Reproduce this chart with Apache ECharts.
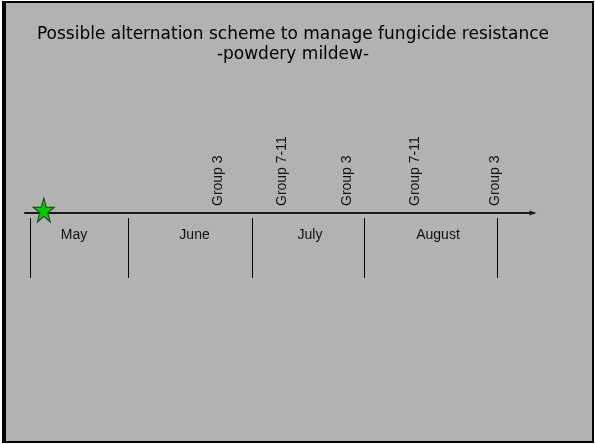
<!DOCTYPE html>
<html>
<head>
<meta charset="utf-8">
<script src="https://cdn.jsdelivr.net/npm/echarts@6/dist/echarts.min.js"></script>
<style>
  html, body { margin: 0; padding: 0; background: #ffffff; }
  #frame { position: absolute; left: 2px; top: 1px; width: 592px; height: 442px; box-sizing: border-box;
           background: #b2b2b2; border-style: solid; border-color: #000; border-width: 2px 2px 2px 4px; }
  #chart { position: absolute; left: 0; top: 0; width: 595px; height: 444px; }
</style>
</head>
<body>
<div id="frame"></div>
<div id="chart"></div>
<script>
// Timeline positions are expressed as % of the timeline length (0 = start, 100 = end)
const titleLines = ['Possible alternation scheme to manage fungicide resistance', '-powdery mildew-'];
const months = ['May', 'June', 'July', 'August'];
const monthCenters = [9.65, 33.37, 56.1, 81.3];
const monthBoundaries = [0.89, 20.37, 44.59, 66.83, 93.01];
const sprayLabels = ['Group 3', 'Group 7-11', 'Group 3', 'Group 7-11', 'Group 3'];
const sprayPositions = [38.05, 50.65, 63.33, 76.77, 92.52];
const startPositions = [3.7];

const STAR = 'path://M50,0 L61.23,34.55 L97.55,34.55 L68.17,55.9 L79.39,90.45 L50,69.1 L20.61,90.45 L31.83,55.9 L2.45,34.55 L38.77,34.55 Z';
const LABEL_FONT = '14px "Liberation Sans", Arial, sans-serif';

const chart = echarts.init(document.getElementById('chart'), null, { renderer: 'canvas' });
chart.setOption({
  animation: false,
  backgroundColor: 'transparent',
  title: {
    text: titleLines.join('\n'),
    left: 288,
    top: 20,
    textAlign: 'center',
    textStyle: { fontFamily: '"DejaVu Sans", sans-serif', fontSize: 17, fontWeight: 'normal', color: '#000', lineHeight: 20 }
  },
  grid: { left: 25, right: 62, top: 113, height: 200 },
  xAxis: {
    type: 'value', min: 0, max: 100,
    axisLine: { show: true, onZero: true, symbol: ['none', 'triangle'], symbolSize: [5, 7],
                lineStyle: { color: '#1a1a1a', width: 2 } },
    axisTick: { show: false }, axisLabel: { show: false }, splitLine: { show: false }
  },
  yAxis: { type: 'value', min: -10, max: 10, show: false },
  series: [
    {
      type: 'custom', name: 'boundaries', silent: true,
      data: monthBoundaries.map(x => [x, 0]),
      renderItem: function (params, api) {
        const x = api.value(0);
        const p0 = api.coord([x, -0.5]);
        const p1 = api.coord([x, -6.5]);
        return { type: 'line', shape: { x1: Math.round(p0[0]) + 0.5, y1: p0[1], x2: Math.round(p1[0]) + 0.5, y2: p1[1] },
                 style: { stroke: '#000', lineWidth: 1 } };
      }
    },
    {
      type: 'custom', name: 'months', silent: true,
      data: months.map((m, i) => [monthCenters[i], 0, m]),
      renderItem: function (params, api) {
        const p = api.coord([api.value(0), -2.2]);
        return { type: 'text', x: p[0], y: p[1],
                 style: { text: months[params.dataIndex], font: LABEL_FONT, fill: '#111', align: 'center', verticalAlign: 'middle' } };
      }
    },
    {
      type: 'custom', name: 'sprays', silent: true,
      data: sprayLabels.map((s, i) => [sprayPositions[i], 0, s]),
      renderItem: function (params, api) {
        const p = api.coord([api.value(0), 0.7]);
        return { type: 'text', x: p[0], y: p[1], rotation: Math.PI / 2,
                 style: { text: sprayLabels[params.dataIndex], font: LABEL_FONT, fill: '#111', align: 'left', verticalAlign: 'middle' } };
      }
    },
    {
      type: 'scatter', name: 'start', silent: true,
      data: startPositions.map(x => [x, 0]),
      symbol: STAR, symbolSize: [21, 24], symbolOffset: [0, -3],
      itemStyle: { color: '#00cc00', borderColor: '#1a3a1a', borderWidth: 1, opacity: 1 },
      z: 5
    }
  ]
});
</script>
</body>
</html>
